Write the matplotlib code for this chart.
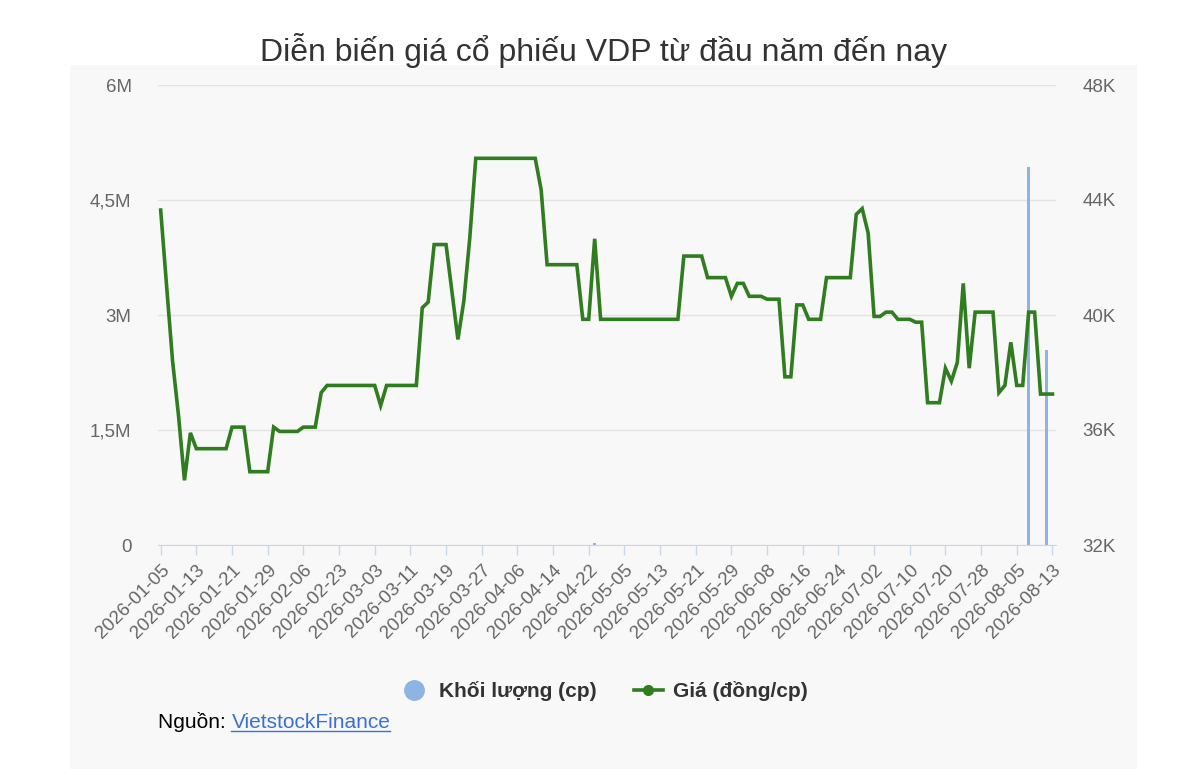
import numpy as np
import pandas as pd
import matplotlib
matplotlib.use('Agg')
import matplotlib.pyplot as plt
from matplotlib.lines import Line2D
from matplotlib.patches import Rectangle

plt.rcParams['font.family'] = ['Liberation Sans', 'DejaVu Sans']

# trading days (HOSE), holidays removed
holidays = ['2026-02-16', '2026-02-17', '2026-02-18', '2026-02-19', '2026-02-20',
            '2026-04-27', '2026-04-30', '2026-05-01']
dates = pd.bdate_range('2026-01-05', '2026-08-13', freq='C', holidays=holidays)

# closing price, dong/share
price = [
    43650, 41000, 38400, 36500, 34250, 35900,
    35350, 35350, 35350, 35350, 35350, 35350,
    36100, 36100, 36100,
    34550, 34550, 34550, 34550,
    36100,
    35950, 35950, 35950, 35950,
    36100, 36100, 36100,
    37300,
    37550, 37550, 37550, 37550, 37550, 37550, 37550, 37550, 37550,
    36850,
    37550, 37550, 37550, 37550, 37550, 37550,
    40250, 40450,
    42450, 42450, 42450,
    40800, 39150, 40500, 42700,
    45450, 45450, 45450, 45450, 45450, 45450, 45450, 45450, 45450, 45450, 45450,
    44350,
    41750, 41750, 41750, 41750, 41750, 41750,
    39850, 39850,
    42650,
    39850, 39850, 39850, 39850, 39850, 39850, 39850,
    39850, 39850, 39850, 39850, 39850, 39850, 39850,
    42050, 42050, 42050, 42050,
    41300, 41300, 41300, 41300,
    40650,
    41100, 41100,
    40650, 40650, 40650,
    40550, 40550, 40550,
    37850, 37850,
    40350, 40350,
    39850, 39850, 39850,
    41300, 41300, 41300, 41300, 41300,
    43500, 43700, 42850,
    39950, 39950,
    40100, 40100,
    39850, 39850, 39850,
    39750, 39750,
    36950, 36950, 36950,
    38150, 37700, 38350, 41100, 38150,
    40100, 40100, 40100, 40100,
    37300, 37550, 39050,
    37550, 37550,
    40100, 40100,
    37250, 37250, 37250,
]

# matched volume (shares); other sessions ~0
vol_dates = ['2026-04-23', '2026-08-07', '2026-08-12']
vol_values = [25000, 4930000, 2550000]

left_ticks = [0, 1.5e6, 3e6, 4.5e6, 6e6]
left_labels = ['0', '1,5M', '3M', '4,5M', '6M']
right_ticks = [32000, 36000, 40000, 44000, 48000]
right_labels = ['32K', '36K', '40K', '44K', '48K']

title = 'Diễn biến giá cổ phiếu VDP từ đầu năm đến nay'
vol_name = 'Khối lượng (cp)'
price_name = 'Giá (đồng/cp)'

GREEN = '#2f7d1f'
BLUE = '#8db4e2'
LABEL = '#666666'

volume = pd.Series(0.0, index=dates)
volume.loc[pd.to_datetime(vol_dates)] = vol_values
x = np.arange(len(dates))

fig = plt.figure(figsize=(12, 7.83), dpi=100, facecolor='white')
fig.patches.append(Rectangle((70 / 1200, 1 - 769 / 783), 1067 / 1200, 704 / 783,
                             transform=fig.transFigure, facecolor='#f8f8f8',
                             edgecolor='none', zorder=-5))

ax = fig.add_axes([158 / 1200, 1 - 545 / 783, 898 / 1200, 460 / 783])
ax.set_facecolor('none')
ax.bar(x, volume.values, width=0.55, color=BLUE, zorder=2)
ax.set_ylim(0, 6e6)
ax.set_xlim(-0.45, len(x) - 0.4)
ax.set_yticks(left_ticks)
ax.set_yticklabels(left_labels)
ax.grid(axis='y', color='#e3e3e3', linewidth=1)
ax.set_axisbelow(True)

tick_pos = x[::6]
ax.set_xticks(tick_pos)
ax.set_xticklabels([d.strftime('%Y-%m-%d') for d in dates[::6]], rotation=45,
                   ha='right', rotation_mode='anchor', color=LABEL, fontsize=13.5)
ax.tick_params(axis='x', length=7, color='#ccd6eb', width=1, pad=5)
ax.tick_params(axis='y', length=0, labelsize=13.5, labelcolor=LABEL, pad=19)
for s in ['top', 'left', 'right']:
    ax.spines[s].set_visible(False)
ax.spines['bottom'].set_color('#ccd6eb')

ax2 = ax.twinx()
ax2.plot(x, price, color=GREEN, linewidth=2.6, solid_joinstyle='miter')
ax2.set_ylim(32000, 48000)
ax2.set_yticks(right_ticks)
ax2.set_yticklabels(right_labels)
ax2.tick_params(axis='y', length=0, labelsize=13.5, labelcolor=LABEL, pad=19)
for s in ax2.spines.values():
    s.set_visible(False)

fig.text(0.503, 1 - 50 / 783, title, ha='center', va='center', fontsize=23, color='#333333')

handles = [
    Line2D([], [], linestyle='none', marker='o', markersize=14, color=BLUE),
    Line2D([], [], color=GREEN, linewidth=2.6, marker='o', markersize=7),
]
fig.legend(handles, [vol_name, price_name], loc='center', bbox_to_anchor=(0.503, 1 - 691 / 783),
           ncol=2, frameon=False, prop={'weight': 'bold', 'size': 15},
           handlelength=1.4, handletextpad=0.5, columnspacing=1.8, labelcolor='#333333')

src = fig.text(158 / 1200, 1 - 722 / 783, 'Nguồn: ', ha='left', va='center', fontsize=15, color='black')
fig.canvas.draw()
bb = src.get_window_extent()
link = fig.text(bb.x1 / 1200, 1 - 722 / 783, 'VietstockFinance', ha='left', va='center',
                fontsize=15, color='#3a6fd8')
fig.canvas.draw()
lb = link.get_window_extent()
fig.add_artist(Line2D([lb.x0 / 1200, lb.x1 / 1200], [(lb.y0 + 1) / 783] * 2,
                      transform=fig.transFigure, color='#3a6fd8', linewidth=1))

fig.savefig('out.png', dpi=100, facecolor='white')
